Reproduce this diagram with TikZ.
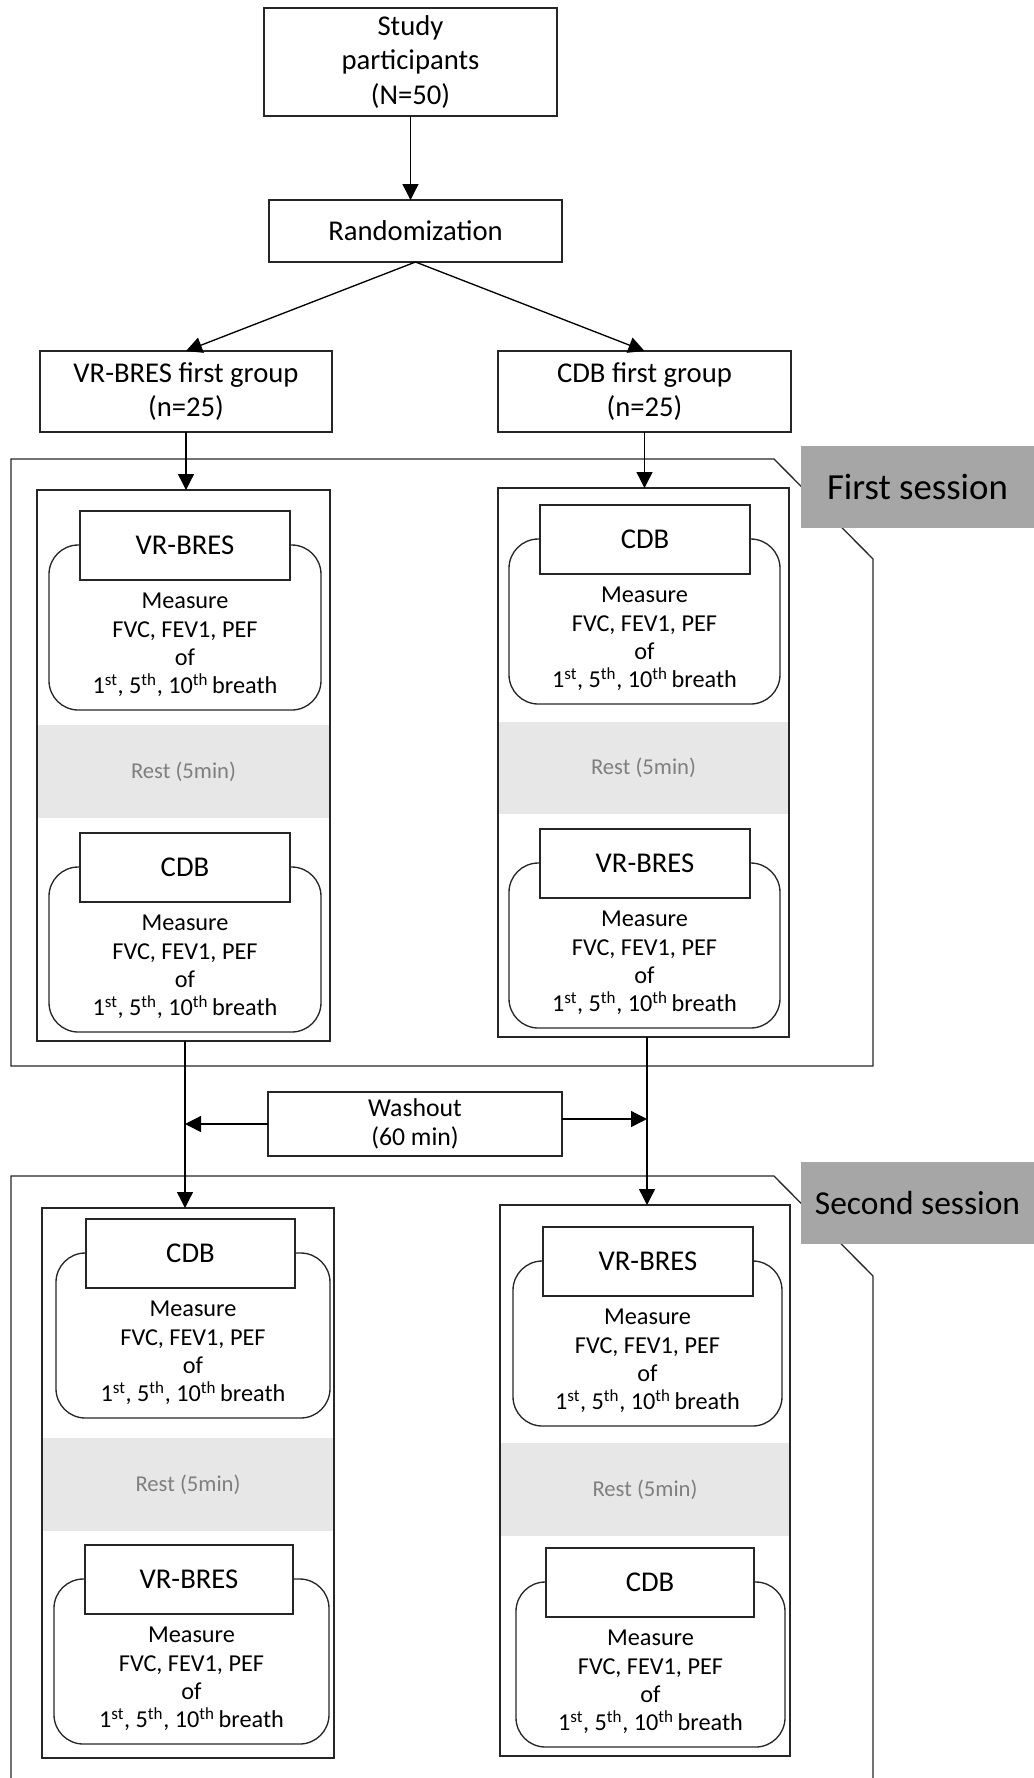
\documentclass[tikz,border=0pt]{standalone}
\usepackage{fontspec}
\setmainfont{Carlito}
\usetikzlibrary{arrows.meta}
\definecolor{lineC}{HTML}{262626}
\definecolor{labelC}{HTML}{A6A6A6}
\definecolor{restC}{HTML}{E7E7E7}
\definecolor{restT}{HTML}{7F7F7F}
\newcommand\fbig{\fontsize{21.5}{26}\selectfont}
\newcommand\fmid{\fontsize{18.2}{21.3}\selectfont}
\newcommand\meastext{Measure\\FVC, FEV1, PEF\\of\\1\textsuperscript{st}, 5\textsuperscript{th}, 10\textsuperscript{th}\,breath}
\tikzset{
  rect/.style n args={4}{minimum width={((#3)-(#1))*0.75pt}, minimum height={((#4)-(#2))*0.75pt}, at={({((#1)+(#3))/2},{((#2)+(#4))/2})}},
  box/.style={draw=lineC, line width=1pt, fill=white, inner sep=0pt, outer sep=0pt, align=center, font=\fbig},
  rbox/.style={draw=lineC, line width=1pt, rounded corners=22pt, inner sep=0pt, outer sep=0pt},
  restband/.style={fill=restC, draw=none, inner sep=0pt, outer sep=0pt, text=restT, font=\fontsize{17}{21}\selectfont},
  colbox/.style={draw=lineC, line width=1pt, inner sep=0pt, outer sep=0pt},
  frame/.style={draw=lineC, line width=1pt},
  sesslabel/.style={fill=labelC, draw=none, inner sep=0pt, outer sep=0pt},
  arr/.style={draw=black, line width=1pt, -{Triangle[length=12pt,width=12pt]}},
  meas/.style={align=center, font=\fmid, inner sep=0pt}
}
% #1 name, #2 rounded xl, #3 rounded xr, #4 title xl, #5 title xr, #6 title top, #7 title
\newcommand\measblock[7]{%
  \node[rbox, rect={#2}{#6+34}{#3}{#6+199}] (#1r) {};
  \node[box, rect={#4}{#6}{#5}{#6+69}] (#1t) {#7};
  \node[meas] (#1m) at ({((#2)+(#3))/2},{#6+134}) {\meastext};
}
\begin{document}
\begin{tikzpicture}[x=0.75pt, y=-0.75pt]
\useasboundingbox (0,0) rectangle (1034,1778);

% top part
\node[box, rect={264}{8}{557}{116}] (study) {Study\\participants\\(N=50)};
\node[box, rect={269}{200}{562}{262}] (rand) {Randomization};
\node[box, rect={40}{351}{332}{432}, font=\fontsize{21.5}{25.5}\selectfont] (vrg) {VR-BRES first group\\(n=25)};
\node[box, rect={498}{351}{791}{432}, font=\fontsize{21.5}{25.5}\selectfont] (cdbg) {CDB first group\\(n=25)};

\draw[arr] (study.south) -- (study.south |- rand.north);
\draw[arr] (rand.south) -- (vrg.north);
\draw[arr] (rand.south) -- (cdbg.north);

% first session frame
\draw[frame] (11,459) -- (774,459) -- (873,559) -- (873,1066) -- (11,1066) -- cycle;
\node[sesslabel, rect={801}{446}{1034}{528}, font=\fontsize{27.6}{32}\selectfont] (lab1) {First session};

% first session left column
\node[restband, rect={37}{725}{330}{818}] (rest1) {Rest (5min)};
\node[colbox, rect={37}{490}{330}{1041}] (L1) {};
\measblock{la}{49}{321}{80}{290}{511}{VR-BRES}
\measblock{lb}{49}{321}{80}{290}{833}{CDB}

% first session right column
\node[restband, rect={498}{722}{789}{814}] (rest2) {Rest (5min)};
\node[colbox, rect={498}{488}{789}{1037}] (R1) {};
\measblock{ra}{509}{780}{540}{750}{505}{CDB}
\measblock{rb}{509}{780}{540}{750}{829}{VR-BRES}

\draw[arr] (vrg.south) -- (vrg.south |- L1.north);
\draw[arr] (cdbg.south) -- (cdbg.south |- R1.north);

% washout
\node[box, rect={268}{1092}{562}{1156}, font=\fontsize{19.3}{21.5}\selectfont] (wash) {Washout\\(60 min)};

% second session frame
\draw[frame] (873,1790) -- (873,1276) -- (774,1176) -- (11,1176) -- (11,1790);
\node[sesslabel, rect={801}{1162}{1034}{1244}, font=\fontsize{25.1}{29}\selectfont] (lab2) {Second session};

% second session left column
\node[restband, rect={42}{1438}{334}{1531}] (rest3) {Rest (5min)};
\node[colbox, rect={42}{1208}{334}{1758}] (L2) {};
\measblock{lc}{56}{330}{86}{295}{1219}{CDB}
\measblock{ld}{54}{329}{85}{293}{1545}{VR-BRES}

% second session right column
\node[restband, rect={500}{1443}{790}{1536}] (rest4) {Rest (5min)};
\node[colbox, rect={500}{1205}{790}{1756}] (R2) {};
\measblock{rc}{513}{782}{543}{753}{1227}{VR-BRES}
\measblock{rd}{516}{785}{546}{754}{1548}{CDB}

% connectors between sessions
\coordinate (lx) at (185,0);
\coordinate (rx) at (647,0);
\draw[arr] (L1.south -| lx) -- (L2.north -| lx);
\draw[arr] (R1.south -| rx) -- (R2.north -| rx);
\draw[arr] (wash.west) -- (wash.west -| lx);
\draw[arr] ([yshift=3.75pt]wash.east) -- ([yshift=3.75pt]wash.east -| rx);
\end{tikzpicture}
\end{document}
